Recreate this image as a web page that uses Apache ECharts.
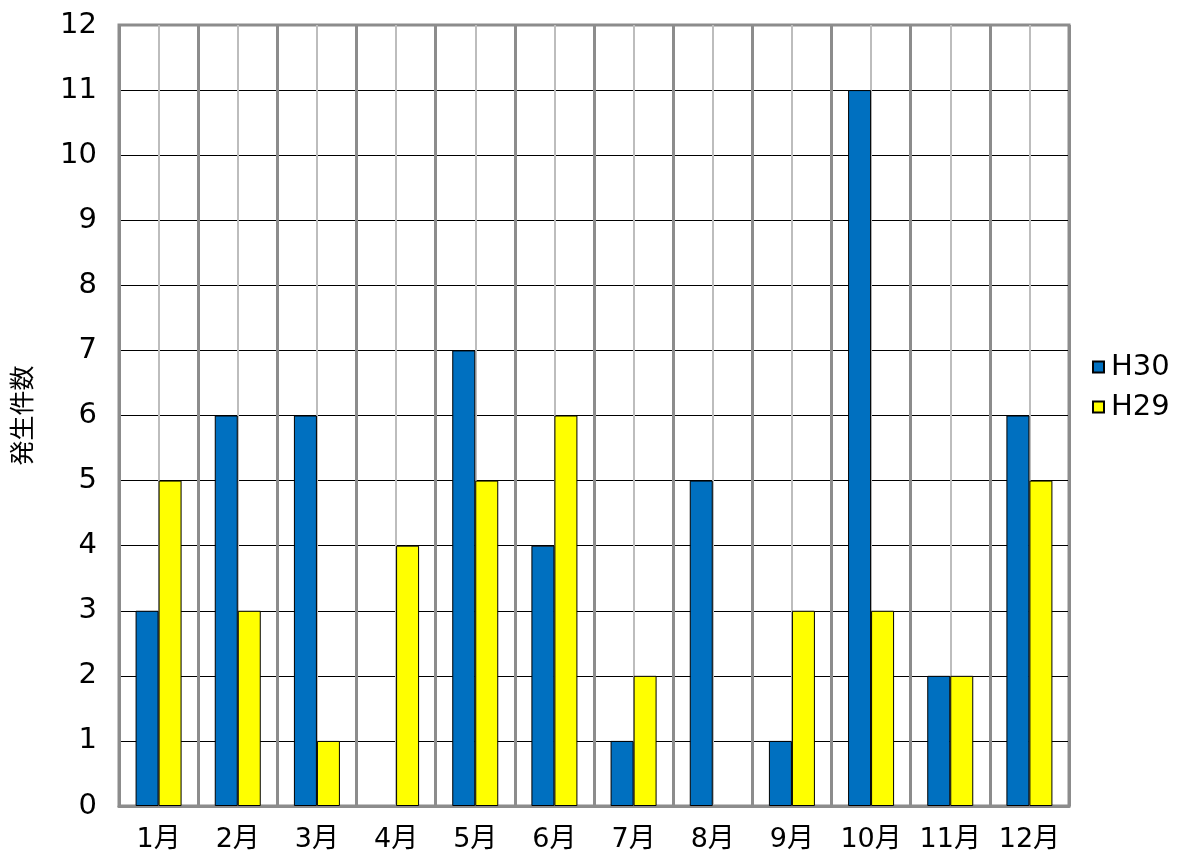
<!DOCTYPE html>
<html><head><meta charset="utf-8">
<script src="https://cdn.jsdelivr.net/npm/echarts@6/dist/echarts.min.js"></script>
<style>html,body{margin:0;padding:0;background:#fff}#c{width:1184px;height:859px}</style>
</head><body><div id="c"></div>
<script>
const categories = ['1月','2月','3月','4月','5月','6月','7月','8月','9月','10月','11月','12月'];
const h30 = [3,6,6,0,7,4,1,5,1,11,2,6];
const h29 = [5,3,1,4,5,6,2,0,3,3,2,5];
const seriesNames = ['H30','H29'];
const minorCats = [];
categories.forEach(c => { minorCats.push(c + 'a'); minorCats.push(c + 'b'); });
const FONT = '"DejaVu Sans", "Noto Sans CJK JP", sans-serif';
const toData = arr => arr.map(v => v === 0 ? {value: 0, itemStyle: {opacity: 0, borderWidth: 0}} : v);

const chart = echarts.init(document.getElementById('c'), null, {renderer:'canvas'});
chart.setOption({
  animation: false,
  backgroundColor: '#fff',
  textStyle: {fontFamily: FONT, color: '#000'},
  grid: {left: 119, right: 115, top: 25, bottom: 53, show: true, borderColor: '#8c8c8c', borderWidth: 3, backgroundColor: 'transparent'},
  legend: {
    orient: 'vertical', left: 1087, top: 347,
    itemWidth: 11, itemHeight: 11, itemGap: 10,
    icon: 'rect',
    textStyle: {fontSize: 29, lineHeight: 30, color: '#000', fontFamily: FONT, padding: [0,0,0,2]},
    data: seriesNames
  },
  xAxis: [
    {type: 'category', data: categories, z: 2,
     axisLine: {show: true, lineStyle: {color: '#8c8c8c', width: 3}},
     axisTick: {show: false},
     axisLabel: {fontSize: 27, color: '#000', margin: 20, interval: 0, fontFamily: FONT},
     splitLine: {show: true, interval: 0, lineStyle: {color: '#8c8c8c', width: 3}}},
    {type: 'category', data: minorCats, z: 1, position: 'bottom',
     axisLine: {show: false}, axisTick: {show: false}, axisLabel: {show: false, interval: 0},
     splitLine: {show: true, interval: 0, lineStyle: {color: '#bdbdbd', width: 2}}}
  ],
  yAxis: {
    type: 'value', min: 0, max: 12, interval: 1, z: 0,
    name: '発生件数', nameLocation: 'middle', nameGap: 82, nameRotate: 90,
    nameTextStyle: {fontSize: 25, color: '#000', fontFamily: FONT},
    axisLine: {show: false}, axisTick: {show: false},
    axisLabel: {fontSize: 29, color: '#000', margin: 22, fontFamily: FONT},
    splitLine: {show: true, showMinLine: false, showMaxLine: false, lineStyle: {color: '#000', width: 1}}
  },
  series: [
    {name: seriesNames[0], type: 'bar', data: toData(h30), xAxisIndex: 0, barWidth: 23, barGap: '0%', z: 5,
     itemStyle: {color: '#0070C0', borderColor: '#000', borderWidth: 1}},
    {name: seriesNames[1], type: 'bar', data: toData(h29), xAxisIndex: 0, barWidth: 23, barGap: '0%', z: 5,
     itemStyle: {color: '#FFFF00', borderColor: '#000', borderWidth: 1}}
  ]
});
</script></body></html>
